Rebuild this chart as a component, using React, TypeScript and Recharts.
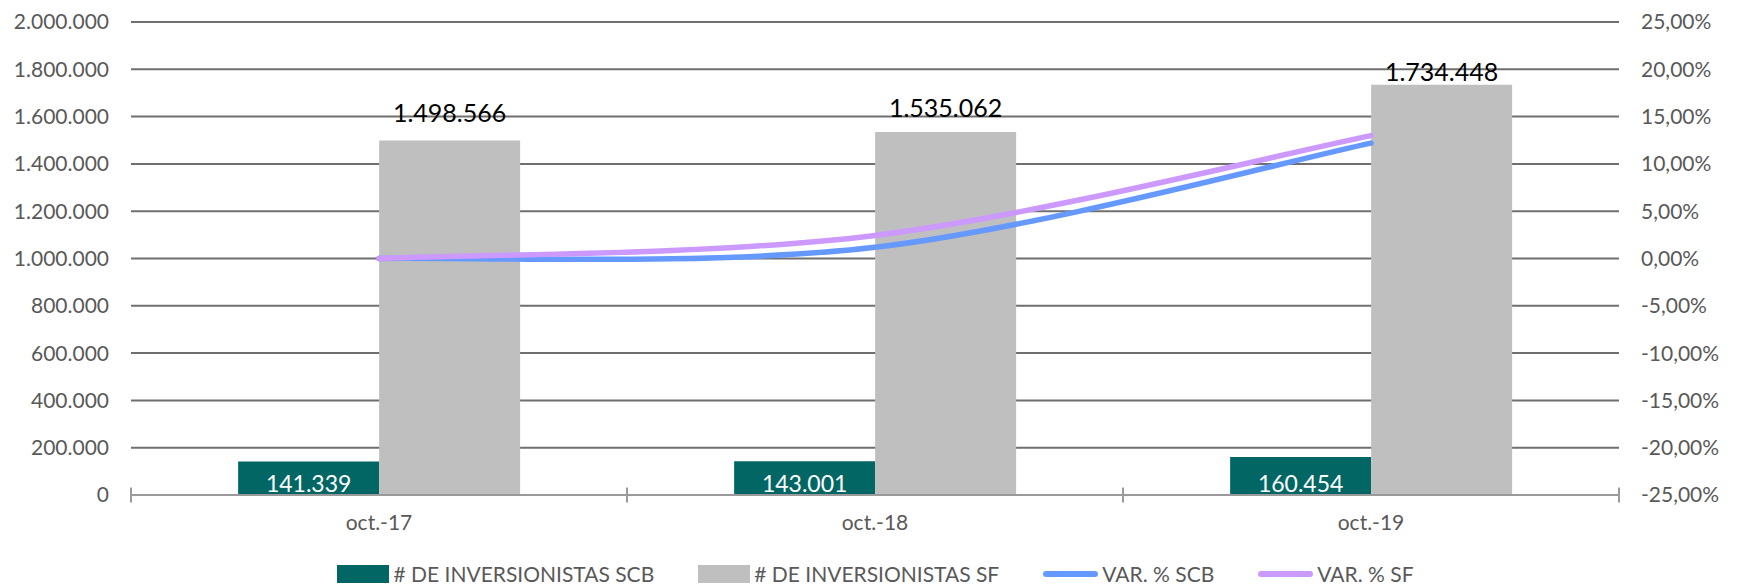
import React from 'react';
import {
  ComposedChart,
  Bar,
  Line,
  XAxis,
  YAxis,
  CartesianGrid,
  Legend,
  LabelList,
} from 'recharts';

// ---- data ----
const CATEGORIES = ['oct.-17', 'oct.-18', 'oct.-19'];
const INVERSIONISTAS_SCB = [141339, 143001, 160454];
const INVERSIONISTAS_SF = [1498566, 1535062, 1734448];
const VAR_SCB = [0, 1.18, 12.2];
const VAR_SF = [0, 2.44, 12.99];

const LEFT_TICKS = [0, 200000, 400000, 600000, 800000, 1000000, 1200000, 1400000, 1600000, 1800000, 2000000];
const RIGHT_TICKS = [-25, -20, -15, -10, -5, 0, 5, 10, 15, 20, 25];

const SERIES_NAMES = {
  scb: '# DE INVERSIONISTAS SCB',
  sf: '# DE INVERSIONISTAS SF',
  varScb: 'VAR. % SCB',
  varSf: 'VAR. % SF',
};

// ---- styles ----
const W = 1741;
const H = 587;
const FONT = 'Lato, "Open Sans", sans-serif';
const AXIS_TEXT = '#595959';
const GRID = '#6f6f6f';
const AXIS_LINE = '#9a9a9a';
const C_SCB = '#026764';
const C_SF = '#BFBFBF';
const C_VAR_SCB = '#6699FF';
const C_VAR_SF = '#CC99FF';
const TOP_LABEL_GAP = [19, 15, 4];

const data = CATEGORIES.map((c, i) => ({
  cat: c,
  scb: INVERSIONISTAS_SCB[i],
  sf: INVERSIONISTAS_SF[i],
  varScb: VAR_SCB[i],
  varSf: VAR_SF[i],
}));

const fmtThousands = (v: number) =>
  Math.round(v)
    .toString()
    .replace(/\B(?=(\d{3})+(?!\d))/g, '.');

const fmtPct = (v: number) => v.toFixed(2).replace('.', ',') + '%';

// Excel-like smoothed line (Catmull-Rom style bezier)
function excelSmooth(context: any) {
  let pts: [number, number][] = [];
  return {
    areaStart() {},
    areaEnd() {},
    lineStart() {
      pts = [];
    },
    point(x: number, y: number) {
      pts.push([+x, +y]);
    },
    lineEnd() {
      const n = pts.length;
      if (!n) return;
      context.moveTo(pts[0][0], pts[0][1]);
      for (let i = 0; i < n - 1; i++) {
        const p0 = pts[Math.max(i - 1, 0)];
        const p1 = pts[i];
        const p2 = pts[i + 1];
        const p3 = pts[Math.min(i + 2, n - 1)];
        context.bezierCurveTo(
          p1[0] + (p2[0] - p0[0]) / 6,
          p1[1] + (p2[1] - p0[1]) / 6,
          p2[0] - (p3[0] - p1[0]) / 6,
          p2[1] - (p3[1] - p1[1]) / 6,
          p2[0],
          p2[1]
        );
      }
    },
  };
}

const XTick = (props: any) => {
  const { x, y, payload, index } = props;
  const half = payload && payload.offset ? payload.offset : 248;
  const n = CATEGORIES.length;
  return (
    <g>
      <line x1={x - half} x2={x - half} y1={y - 7.5} y2={y + 7.5} stroke={AXIS_LINE} strokeWidth={2} />
      {index === n - 1 && (
        <line x1={x + half} x2={x + half} y1={y - 7.5} y2={y + 7.5} stroke={AXIS_LINE} strokeWidth={2} />
      )}
      <text
        x={x}
        y={y + 26}
        textAnchor="middle"
        dominantBaseline="central"
        fill={AXIS_TEXT}
        fontSize={21}
        fontFamily={FONT}
      >
        {payload.value}
      </text>
    </g>
  );
};

const TopLabel = (props: any) => {
  const { x, y, width, value, index } = props;
  const gap = TOP_LABEL_GAP[index] ?? 15;
  return (
    <text
      x={x + width / 2}
      y={y - gap}
      textAnchor="middle"
      fill="#000000"
      fontSize={25}
      fontFamily={FONT}
    >
      {fmtThousands(value)}
    </text>
  );
};

const LegendContent = () => {
  const items = [
    { key: 'scb', type: 'rect', color: C_SCB },
    { key: 'sf', type: 'rect', color: C_SF },
    { key: 'varScb', type: 'line', color: C_VAR_SCB },
    { key: 'varSf', type: 'line', color: C_VAR_SF },
  ];
  return (
    <div
      style={{
        height: 30,
        display: 'flex',
        justifyContent: 'center',
        alignItems: 'center',
        paddingLeft: 10,
        transform: 'translateY(2px)',
        fontFamily: FONT,
        fontSize: 21,
        lineHeight: '24px',
        color: AXIS_TEXT,
        whiteSpace: 'nowrap',
      }}
    >
      {items.map((it, i) => (
        <div
          key={it.key}
          style={{ display: 'flex', alignItems: 'center', marginLeft: i === 0 ? 0 : 44 }}
        >
          {it.type === 'rect' ? (
            <span style={{ display: 'inline-block', width: 52, height: 18, background: it.color }} />
          ) : (
            <span
              style={{
                display: 'inline-block',
                width: 55,
                height: 6,
                borderRadius: 3,
                background: it.color,
              }}
            />
          )}
          <span style={{ marginLeft: 4 }}>{(SERIES_NAMES as any)[it.key]}</span>
        </div>
      ))}
    </div>
  );
};

export default function App() {
  return (
    <div style={{ width: W, height: H }}>
      <style>{'body{margin:0;}'}</style>
      <ComposedChart
        width={W}
        height={H}
        data={data}
        margin={{ top: 22, right: 0, bottom: 0, left: 0 }}
        barCategoryGap="21.6%"
        barGap={0}
      >
        <CartesianGrid
          yAxisId="left"
          vertical={false}
          stroke={GRID}
          strokeWidth={2}
        />
        <XAxis
          dataKey="cat"
          height={62}
          axisLine={{ stroke: AXIS_LINE, strokeWidth: 2 }}
          tickLine={false}
          tickSize={0}
          tickMargin={0}
          tick={<XTick />}
          interval={0}
        />
        <YAxis
          yAxisId="left"
          width={131}
          domain={[0, 2000000]}
          ticks={LEFT_TICKS}
          tickFormatter={fmtThousands}
          axisLine={false}
          tickLine={false}
          tickSize={0}
          tickMargin={22}
          tick={{ fill: AXIS_TEXT, fontSize: 21, fontFamily: FONT }}
          interval={0}
        />
        <YAxis
          yAxisId="right"
          orientation="right"
          width={122}
          domain={[-25, 25]}
          ticks={RIGHT_TICKS}
          tickFormatter={fmtPct}
          axisLine={false}
          tickLine={false}
          tickSize={0}
          tickMargin={22}
          tick={{ fill: AXIS_TEXT, fontSize: 21, fontFamily: FONT }}
          interval={0}
        />
        <Legend verticalAlign="bottom" content={<LegendContent />} />
        <Bar
          yAxisId="left"
          dataKey="scb"
          name={SERIES_NAMES.scb}
          fill={C_SCB}
          isAnimationActive={false}
        >
          <LabelList
            dataKey="scb"
            position="insideBottom"
            offset={3}
            fill="#FFFFFF"
            fontSize={23}
            fontFamily={FONT}
            formatter={(v: any) => fmtThousands(Number(v))}
          />
        </Bar>
        <Bar
          yAxisId="left"
          dataKey="sf"
          name={SERIES_NAMES.sf}
          fill={C_SF}
          isAnimationActive={false}
          label={<TopLabel />}
        />
        <Line
          yAxisId="right"
          dataKey="varScb"
          name={SERIES_NAMES.varScb}
          stroke={C_VAR_SCB}
          strokeWidth={5.5}
          strokeLinecap="round"
          type={excelSmooth as any}
          dot={false}
          activeDot={false}
          isAnimationActive={false}
        />
        <Line
          yAxisId="right"
          dataKey="varSf"
          name={SERIES_NAMES.varSf}
          stroke={C_VAR_SF}
          strokeWidth={5.5}
          strokeLinecap="round"
          type={excelSmooth as any}
          dot={false}
          activeDot={false}
          isAnimationActive={false}
        />
      </ComposedChart>
    </div>
  );
}
